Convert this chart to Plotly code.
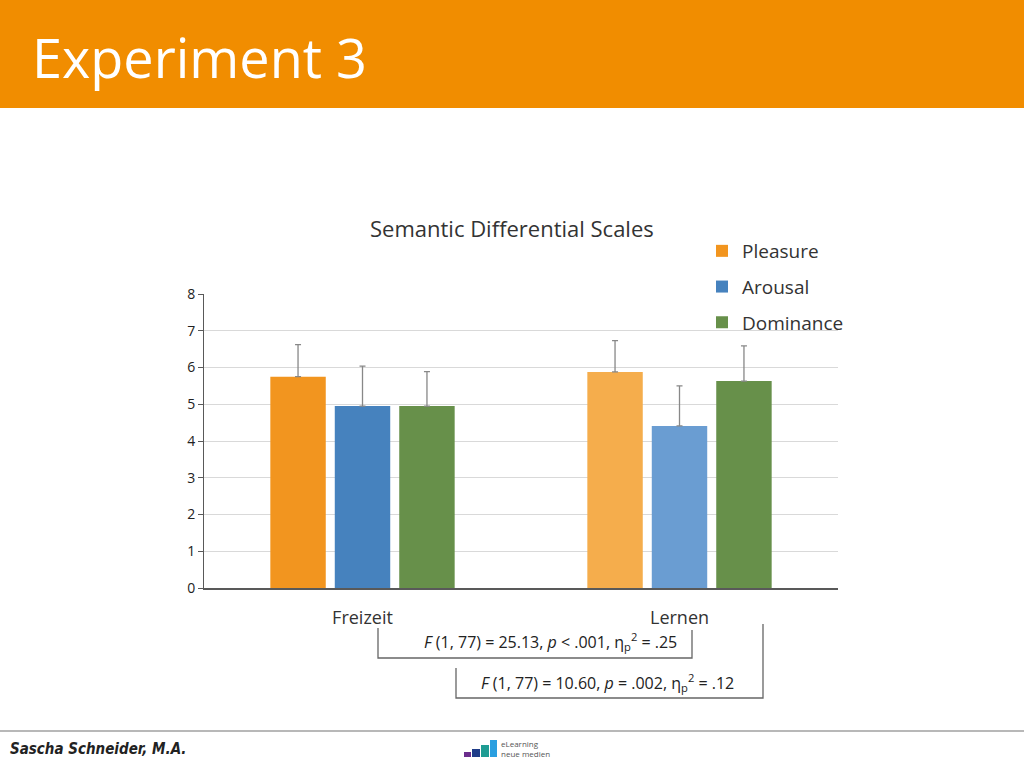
import plotly.graph_objects as go

categories = ["Freizeit", "Lernen"]
series = ["Pleasure", "Arousal", "Dominance"]
means = {"Pleasure": [5.75, 5.88], "Arousal": [4.95, 4.41], "Dominance": [4.95, 5.63]}
errs = {"Pleasure": [0.87, 0.85], "Arousal": [1.09, 1.09], "Dominance": [0.94, 0.96]}
colors = {"Pleasure": ["#F2951F", "#F5AD4C"], "Arousal": ["#4682BE", "#6A9DD2"], "Dominance": ["#67904A", "#67904A"]}
legend_colors = {"Pleasure": "#F2951F", "Arousal": "#4682BE", "Dominance": "#67904A"}
yticks = [0, 1, 2, 3, 4, 5, 6, 7, 8]

L, R, T, B = 204, 838, 294, 588
def px(x): return (x - L) / (R - L)
def py(y): return (B - y) / (B - T)

fig = go.Figure()
for s in series:
    fig.add_bar(name=s, x=categories, y=means[s], marker_color=colors[s], marker_line_width=0, showlegend=False,
                error_y=dict(type="data", array=errs[s], arrayminus=[0, 0], symmetric=False, visible=True,
                             color="#888888", thickness=1.3, width=3))
for s in series:
    fig.add_scatter(x=[None], y=[None], mode="markers", name=s, legendgroup=s,
                    marker=dict(symbol="square", size=13, color=legend_colors[s]))

fig.update_layout(
    width=1024, height=768, margin=dict(l=L, r=1024 - R, t=T, b=768 - B),
    paper_bgcolor="white", plot_bgcolor="white",
    barmode="group", bargap=0.39, bargroupgap=0.14,
    font=dict(family="Open Sans, Liberation Sans, sans-serif", color="#333333"),
    showlegend=True,
    legend=dict(x=px(702), y=py(232), xanchor="left", yanchor="top", font=dict(size=19, color="#333"),
                tracegroupgap=8, itemsizing="constant", itemwidth=30, bgcolor="rgba(0,0,0,0)"),
    xaxis=dict(showline=True, linecolor="#595959", linewidth=2, ticks="", ticklabelstandoff=12,
               tickfont=dict(size=18, color="#333")),
    yaxis=dict(range=[0, 8], tickvals=yticks, showgrid=True, gridcolor="#D9D9D9", showline=True,
               linecolor="#595959", linewidth=1, ticks="outside", ticklen=5, tickcolor="#595959",
               tickfont=dict(size=14, color="#222"), zeroline=False),
)

shapes = [
    dict(type="rect", xref="paper", yref="paper", x0=px(0), x1=px(1024), y0=py(0), y1=py(108),
         fillcolor="#F18D00", line_width=0, layer="below"),
    dict(type="line", xref="paper", yref="paper", x0=px(0), x1=px(1024), y0=py(731), y1=py(731),
         line=dict(color="#A0A0A0", width=1.5)),
    dict(type="path", xref="paper", yref="paper",
         path=f"M {px(378)},{py(628)} L {px(378)},{py(658)} L {px(692)},{py(658)} L {px(692)},{py(630)}",
         line=dict(color="#666", width=1.3)),
    dict(type="path", xref="paper", yref="paper",
         path=f"M {px(456)},{py(668)} L {px(456)},{py(698)} L {px(763)},{py(698)} L {px(763)},{py(624)}",
         line=dict(color="#666", width=1.3)),
]
for (x0, x1, y0, c) in [(464, 471, 752, "#6B2D8C"), (472, 480, 749, "#1F3C88"), (481, 489, 745, "#1E9C93"), (490, 497, 740, "#2A9FE0")]:
    shapes.append(dict(type="rect", xref="paper", yref="paper", x0=px(x0), x1=px(x1), y0=py(757), y1=py(y0),
                       fillcolor=c, line_width=0))
fig.update_layout(shapes=shapes)

ann = [
    dict(text="Experiment 3", x=px(30), y=py(57), xanchor="left", yanchor="middle",
         font=dict(size=54, color="white", family="Open Sans, sans-serif")),
    dict(text="Semantic Differential Scales", x=px(512), y=py(228), xanchor="center", yanchor="middle",
         font=dict(size=22, color="#333")),
    dict(text="<i>F</i> (1, 77) = 25.13, <i>p</i> < .001, η<sub>p</sub><sup>2</sup> = .25", x=px(550), y=py(641),
         xanchor="center", yanchor="middle", font=dict(size=16, color="#222")),
    dict(text="<i>F</i> (1, 77) = 10.60, <i>p</i> = .002, η<sub>p</sub><sup>2</sup> = .12", x=px(607), y=py(682),
         xanchor="center", yanchor="middle", font=dict(size=16, color="#222")),
    dict(text="<b><i>Sascha Schneider, M.A.</i></b>", x=px(8), y=py(749), xanchor="left", yanchor="middle",
         font=dict(size=15, color="#222", family="Liberation Sans Narrow, DejaVu Sans Condensed, sans-serif")),
    dict(text="eLearning<br>neue medien", x=px(499), y=py(748), xanchor="left", yanchor="middle", align="left",
         font=dict(size=8, color="#555")),
]
for a in ann:
    a.update(xref="paper", yref="paper", showarrow=False)
fig.update_layout(annotations=ann)

fig.write_html("out.html", config={"displayModeBar": False})
with open("out.html", encoding="utf-8") as f:
    html = f.read()
html = html.replace("<body>", '<body style="margin:0;padding:0">', 1)
with open("out.html", "w", encoding="utf-8") as f:
    f.write(html)
